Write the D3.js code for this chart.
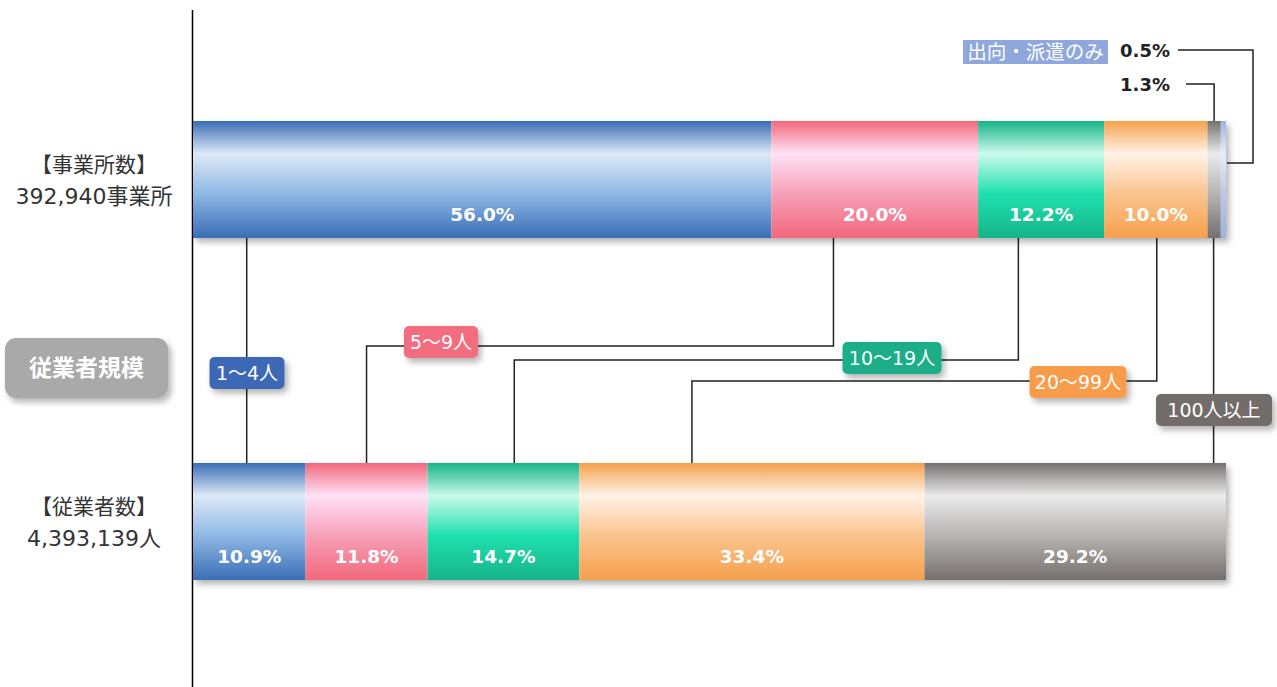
<!DOCTYPE html>
<html>
<head>
<meta charset="utf-8">
<script src="https://cdn.jsdelivr.net/npm/d3@7"></script>
<style>
  body { margin: 0; background: #fff; }
  svg { display: block; font-family: "DejaVu Sans", "Noto Sans CJK JP", sans-serif; }
</style>
</head>
<body>
<svg width="1277" height="687"></svg>
<script>
// ***data***
var categories = ["1〜4人", "5〜9人", "10〜19人", "20〜99人", "100人以上", "出向・派遣のみ"];
var officeShare = [56.0, 20.0, 12.2, 10.0, 1.3, 0.5];      // 事業所数
var workerShare = [10.9, 11.8, 14.7, 33.4, 29.2];           // 従業者数
var rowTitles = ["【事業所数】", "【従業者数】"];
var rowTotals = ["392,940事業所", "4,393,139人"];
var badgeText = "従業者規模";

// colours: [dark, light, mid] for the glossy gradient
var palette = [
  ["#3a6db6", "#dde9f6", "#8fb8e4"],
  ["#f2687c", "#ffe2f6", "#f6a0b8"],
  ["#17b488", "#cbfaea", "#1fe0ae"],
  ["#f6a04c", "#fff3e8", "#fac48e"],
  ["#75706e", "#ebebeb", "#b7b4b2"],
  ["#9db2df", "#e8eef9", "#b9c8ea"]
];
var tagColors = ["#3d68b5", "#f36d80", "#1aae88", "#f89c4c", "#726d6b"];

var svg = d3.select("svg");
var defs = svg.append("defs");

palette.forEach(function(c, i) {
  var g = defs.append("linearGradient").attr("id", "grad" + i)
      .attr("x1", 0).attr("y1", 0).attr("x2", 0).attr("y2", 1);
  g.append("stop").attr("offset", "0%").attr("stop-color", c[0]);
  g.append("stop").attr("offset", "28%").attr("stop-color", c[1]);
  g.append("stop").attr("offset", "62%").attr("stop-color", c[2]);
  g.append("stop").attr("offset", "100%").attr("stop-color", c[0]);
});

var shadow = defs.append("filter").attr("id", "shadow")
    .attr("x", "-10%").attr("y", "-20%").attr("width", "130%").attr("height", "160%");
shadow.append("feDropShadow").attr("dx", 3).attr("dy", 4).attr("stdDeviation", 3)
    .attr("flood-color", "#000").attr("flood-opacity", 0.3);

var x = d3.scaleLinear().domain([0, 100]).range([193, 1226]);
var rowY = [121, 463];
var barH = 117;

// axis line
svg.append("line").attr("x1", 192.5).attr("x2", 192.5).attr("y1", 10).attr("y2", 687)
    .attr("stroke", "#000").attr("stroke-width", 1.5);

function stack(values) {
  var acc = 0;
  return values.map(function(v, i) {
    var d = { i: i, v: v, x0: acc, x1: acc + v };
    acc += v;
    return d;
  });
}

// connectors (positions as % along the bar, elbows in px)
var topAnchor = [5.2, 62.0, 79.9, 93.3, 98.8];
var bottomAnchor = [5.2, 16.8, 31.1, 48.3, 98.8];
var elbowY = [null, 346, 360, 381, null];
var gLines = svg.append("g");
topAnchor.forEach(function(t, i) {
  var pts;
  if (elbowY[i] == null) {
    pts = [[x(t), rowY[0] + barH], [x(bottomAnchor[i]), rowY[1]]];
  } else {
    pts = [[x(t), rowY[0] + barH], [x(t), elbowY[i]], [x(bottomAnchor[i]), elbowY[i]], [x(bottomAnchor[i]), rowY[1]]];
  }
  gLines.append("path").attr("d", d3.line()(pts))
      .attr("fill", "none").attr("stroke", "#222").attr("stroke-width", 1.5);
});

// bars
[officeShare, workerShare].forEach(function(vals, r) {
  var g = svg.append("g");
  g.append("rect").attr("x", x(0)).attr("y", rowY[r]).attr("width", x(d3.sum(vals)) - x(0))
      .attr("height", barH).attr("fill", "#fff").attr("filter", "url(#shadow)");
  var segs = stack(vals);
  g.selectAll("rect.seg").data(segs).enter().append("rect")
      .attr("class", "seg")
      .attr("x", function(d) { return x(d.x0); })
      .attr("y", rowY[r])
      .attr("width", function(d) { return x(d.x1) - x(d.x0); })
      .attr("height", barH)
      .attr("fill", function(d) { return "url(#grad" + d.i + ")"; });
  g.selectAll("text").data(segs.filter(function(d) { return d.v >= 5; })).enter().append("text")
      .attr("x", function(d) { return (x(d.x0) + x(d.x1)) / 2; })
      .attr("y", rowY[r] + 100)
      .attr("text-anchor", "middle")
      .attr("fill", "#fff").attr("font-size", 18.5).attr("font-weight", "bold")
      .text(function(d) { return d.v.toFixed(1) + "%"; });
});

// small segment callouts on the top bar
var small = stack(officeShare).slice(4);
var calloutY = [84, 50];
small.forEach(function(d, k) {
  var cx = (x(d.x0) + x(d.x1)) / 2;
  var pts;
  if (k === 0) {
    pts = [[cx, rowY[0]], [cx, calloutY[k]], [1186, calloutY[k]]];
  } else {
    pts = [[x(d.x1) + 1, 163], [1253, 163], [1253, calloutY[k]], [1178, calloutY[k]]];
  }
  svg.append("path").attr("d", d3.line()(pts)).attr("fill", "none")
      .attr("stroke", "#222").attr("stroke-width", 1.5);
  svg.append("text").attr("x", 1170).attr("y", calloutY[k] + 7)
      .attr("text-anchor", "end").attr("font-size", 18).attr("font-weight", "bold")
      .attr("fill", "#222")
      .text(d.v.toFixed(1) + "%");
});
// 出向・派遣のみ label
svg.append("rect").attr("x", 963).attr("y", 40).attr("width", 145).attr("height", 24)
    .attr("fill", "#8ea7dc");
svg.append("text").attr("x", 1035.5).attr("y", 59).attr("text-anchor", "middle")
    .attr("fill", "#fff").attr("font-size", 19.5).text(categories[5]);

// category tags
var tagPos = [[247, 373], [441, 342], [892, 358], [1078, 382], [1214, 410]];
var tagW = [75, 74, 99, 97, 116];
var gTags = svg.append("g");
tagPos.forEach(function(p, i) {
  gTags.append("rect").attr("x", p[0] - tagW[i] / 2).attr("y", p[1] - 16)
      .attr("width", tagW[i]).attr("height", 32).attr("rx", 5)
      .attr("fill", tagColors[i]).attr("filter", "url(#shadow)");
  gTags.append("text").attr("x", p[0]).attr("y", p[1] + 7)
      .attr("text-anchor", "middle").attr("fill", "#fff").attr("font-size", 19)
      .text(categories[i]);
});

// row titles
rowTitles.forEach(function(t, r) {
  var cy = rowY[r] + 43;
  svg.append("text").attr("x", 94).attr("y", cy + 8).attr("text-anchor", "middle")
      .attr("font-size", 21).attr("fill", "#333").text(t);
  svg.append("text").attr("x", 94).attr("y", cy + 40).attr("text-anchor", "middle")
      .attr("font-size", 22).attr("fill", "#333").text(rowTotals[r]);
});

// badge
svg.append("rect").attr("x", 5).attr("y", 338).attr("width", 163).attr("height", 60)
    .attr("rx", 11).attr("fill", "#a9a9a9").attr("filter", "url(#shadow)");
svg.append("text").attr("x", 86.5).attr("y", 376).attr("text-anchor", "middle")
    .attr("fill", "#fff").attr("font-size", 23).attr("font-weight", "bold").text(badgeText);
</script>
</body>
</html>
